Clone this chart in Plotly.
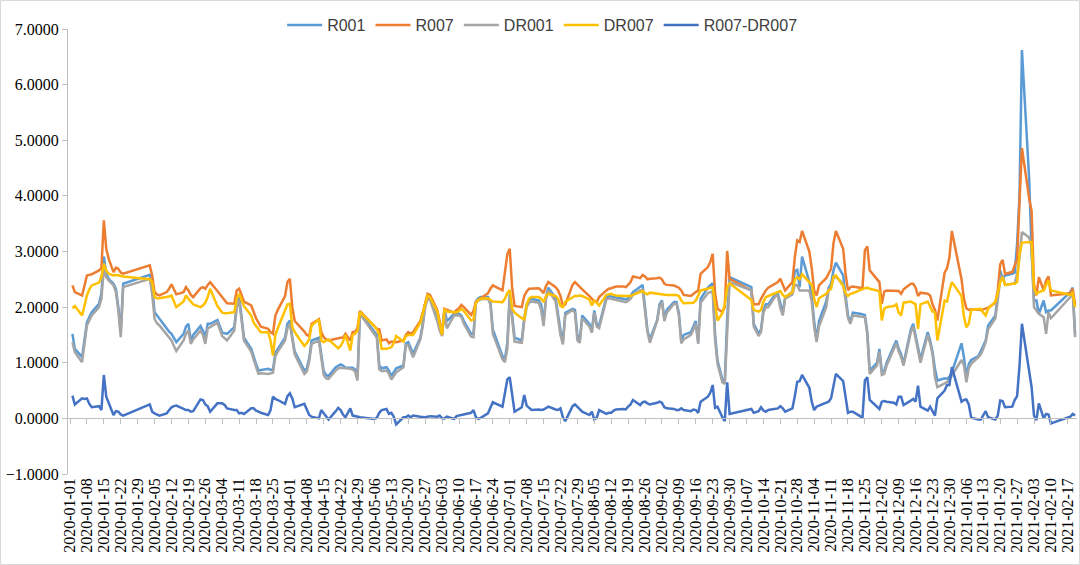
import numpy as np
import plotly.graph_objects as go

dates = [
    "2020-01-02", "2020-01-03", "2020-01-06", "2020-01-07", "2020-01-08", "2020-01-09", "2020-01-10",
    "2020-01-13", "2020-01-14", "2020-01-15", "2020-01-16", "2020-01-17", "2020-01-19", "2020-01-20",
    "2020-01-21", "2020-01-22", "2020-01-23", "2020-02-03", "2020-02-04", "2020-02-05", "2020-02-06",
    "2020-02-07", "2020-02-10", "2020-02-11", "2020-02-12", "2020-02-13", "2020-02-14", "2020-02-17",
    "2020-02-18", "2020-02-19", "2020-02-20", "2020-02-21", "2020-02-24", "2020-02-25", "2020-02-26",
    "2020-02-27", "2020-02-28", "2020-03-02", "2020-03-03", "2020-03-04", "2020-03-05", "2020-03-06",
    "2020-03-09", "2020-03-10", "2020-03-11", "2020-03-12", "2020-03-13", "2020-03-16", "2020-03-17",
    "2020-03-18", "2020-03-19", "2020-03-20", "2020-03-23", "2020-03-24", "2020-03-25", "2020-03-26",
    "2020-03-27", "2020-03-30", "2020-03-31", "2020-04-01", "2020-04-02", "2020-04-03", "2020-04-07",
    "2020-04-08", "2020-04-09", "2020-04-10", "2020-04-13", "2020-04-14", "2020-04-15", "2020-04-16",
    "2020-04-17", "2020-04-20", "2020-04-21", "2020-04-22", "2020-04-23", "2020-04-24", "2020-04-26",
    "2020-04-27", "2020-04-28", "2020-04-29", "2020-04-30", "2020-05-06", "2020-05-07", "2020-05-08",
    "2020-05-09", "2020-05-11", "2020-05-12", "2020-05-13", "2020-05-14", "2020-05-15", "2020-05-18",
    "2020-05-19", "2020-05-20", "2020-05-21", "2020-05-22", "2020-05-25", "2020-05-26", "2020-05-27",
    "2020-05-28", "2020-05-29", "2020-06-01", "2020-06-02", "2020-06-03", "2020-06-04", "2020-06-05",
    "2020-06-08", "2020-06-09", "2020-06-10", "2020-06-11", "2020-06-12", "2020-06-15", "2020-06-16",
    "2020-06-17", "2020-06-18", "2020-06-19", "2020-06-22", "2020-06-23", "2020-06-24", "2020-06-28",
    "2020-06-29", "2020-06-30", "2020-07-01", "2020-07-02", "2020-07-03", "2020-07-06", "2020-07-07",
    "2020-07-08", "2020-07-09", "2020-07-10", "2020-07-13", "2020-07-14", "2020-07-15", "2020-07-16",
    "2020-07-17", "2020-07-20", "2020-07-21", "2020-07-22", "2020-07-23", "2020-07-24", "2020-07-27",
    "2020-07-28", "2020-07-29", "2020-07-30", "2020-07-31", "2020-08-03", "2020-08-04", "2020-08-05",
    "2020-08-06", "2020-08-07", "2020-08-10", "2020-08-11", "2020-08-12", "2020-08-13", "2020-08-14",
    "2020-08-17", "2020-08-18", "2020-08-19", "2020-08-20", "2020-08-21", "2020-08-24", "2020-08-25",
    "2020-08-26", "2020-08-27", "2020-08-28", "2020-08-31", "2020-09-01", "2020-09-02", "2020-09-03",
    "2020-09-04", "2020-09-07", "2020-09-08", "2020-09-09", "2020-09-10", "2020-09-11", "2020-09-14",
    "2020-09-15", "2020-09-16", "2020-09-17", "2020-09-18", "2020-09-21", "2020-09-22", "2020-09-23",
    "2020-09-24", "2020-09-25", "2020-09-27", "2020-09-28", "2020-09-29", "2020-09-30", "2020-10-09",
    "2020-10-10", "2020-10-12", "2020-10-13", "2020-10-14", "2020-10-15", "2020-10-16", "2020-10-19",
    "2020-10-20", "2020-10-21", "2020-10-22", "2020-10-23", "2020-10-26", "2020-10-27", "2020-10-28",
    "2020-10-29", "2020-10-30", "2020-11-02", "2020-11-03", "2020-11-04", "2020-11-05", "2020-11-06",
    "2020-11-09", "2020-11-10", "2020-11-11", "2020-11-12", "2020-11-13", "2020-11-16", "2020-11-17",
    "2020-11-18", "2020-11-19", "2020-11-20", "2020-11-23", "2020-11-24", "2020-11-25", "2020-11-26",
    "2020-11-27", "2020-11-30", "2020-12-01", "2020-12-02", "2020-12-03", "2020-12-04", "2020-12-07",
    "2020-12-08", "2020-12-09", "2020-12-10", "2020-12-11", "2020-12-14", "2020-12-15", "2020-12-16",
    "2020-12-17", "2020-12-18", "2020-12-21", "2020-12-22", "2020-12-23", "2020-12-24", "2020-12-25",
    "2020-12-28", "2020-12-29", "2020-12-30", "2020-12-31", "2021-01-04", "2021-01-05", "2021-01-06",
    "2021-01-07", "2021-01-08", "2021-01-11", "2021-01-12", "2021-01-13", "2021-01-14", "2021-01-15",
    "2021-01-18", "2021-01-19", "2021-01-20", "2021-01-21", "2021-01-22", "2021-01-25", "2021-01-26",
    "2021-01-27", "2021-01-28", "2021-01-29", "2021-02-01", "2021-02-02", "2021-02-03", "2021-02-04",
    "2021-02-05", "2021-02-07", "2021-02-08", "2021-02-09", "2021-02-10", "2021-02-18", "2021-02-19",
    "2021-02-20",
]

r001 = [
    1.52, 1.25, 1.10, 1.40, 1.73, 1.82, 1.91, 2.06, 2.25, 2.91, 2.60, 2.51, 2.42, 2.33, 2.00, 1.55, 2.42,
    2.58, 2.36, 1.91, 1.85, 1.79, 1.61, 1.56, 1.52, 1.45, 1.37, 1.52, 1.65, 1.70, 1.40, 1.50, 1.66, 1.58,
    1.46, 1.70, 1.70, 1.77, 1.65, 1.54, 1.53, 1.52, 1.64, 2.05, 2.20, 1.80, 1.45, 1.25, 1.10, 0.98, 0.86,
    0.87, 0.89, 0.87, 0.88, 1.18, 1.25, 1.45, 1.70, 1.76, 1.46, 1.20, 0.86, 0.90, 1.08, 1.40, 1.45, 1.15,
    0.85, 0.78, 0.76, 0.92, 0.95, 0.97, 0.95, 0.91, 0.91, 0.91, 0.88, 0.76, 1.90, 1.55, 1.50, 0.95, 0.90,
    0.92, 0.86, 0.76, 0.82, 0.90, 0.95, 1.35, 1.37, 1.25, 1.16, 1.45, 1.70, 2.05, 2.20, 2.18, 1.80, 1.62,
    1.52, 1.97, 1.75, 1.88, 1.88, 1.88, 1.85, 1.75, 1.52, 1.52, 2.10, 2.16, 2.18, 2.18, 2.10, 1.60, 1.12,
    1.07, 1.35, 2.24, 1.85, 1.45, 1.40, 1.80, 2.05, 2.12, 2.15, 2.12, 2.05, 1.72, 2.18, 2.35, 2.16, 1.85,
    1.58, 1.38, 1.90, 1.97, 1.95, 1.50, 1.40, 1.85, 1.70, 1.58, 1.94, 1.70, 1.67, 2.18, 2.20, 2.19, 2.18,
    2.17, 2.15, 2.14, 2.16, 2.20, 2.27, 2.38, 2.40, 2.00, 1.58, 1.42, 1.76, 2.05, 2.12, 1.80, 1.95, 2.09,
    2.09, 1.90, 1.40, 1.50, 1.55, 1.65, 1.75, 1.37, 2.15, 2.35, 2.40, 2.43, 1.50, 1.04, 0.70, 0.65, 1.80,
    2.54, 2.36, 1.70, 1.52, 1.60, 1.95, 2.05, 2.05, 2.24, 2.24, 2.05, 1.90, 2.18, 2.27, 2.65, 2.67, 2.36,
    2.91, 2.45, 2.20, 1.75, 1.40, 1.75, 2.10, 2.35, 2.42, 2.66, 2.80, 2.57, 2.20, 1.85, 1.73, 1.90, 1.88,
    1.87, 1.86, 1.55, 0.86, 1.00, 1.25, 0.85, 0.85, 1.00, 1.30, 1.40, 1.25, 1.15, 0.98, 1.60, 1.70, 1.50,
    1.25, 1.06, 1.55, 1.40, 1.20, 0.89, 0.68, 0.72, 0.71, 0.75, 0.83, 1.35, 1.10, 0.74, 0.98, 1.05, 1.12,
    1.22, 1.30, 1.40, 1.67, 1.85, 2.24, 2.66, 2.51, 2.57, 2.60, 2.62, 3.14, 4.00, 6.62, 4.30, 3.00, 2.12,
    2.12, 1.88, 2.12, 1.91, 1.94, 1.94, 2.27, 2.35, 1.52,
]

r007 = [
    2.39, 2.27, 2.21, 2.40, 2.57, 2.58, 2.59, 2.66, 2.70, 3.56, 3.05, 2.87, 2.63, 2.71, 2.69, 2.62, 2.60,
    2.75, 2.57, 2.27, 2.23, 2.21, 2.27, 2.33, 2.41, 2.32, 2.23, 2.27, 2.36, 2.30, 2.22, 2.18, 2.34, 2.36,
    2.33, 2.40, 2.45, 2.29, 2.23, 2.17, 2.13, 2.07, 2.06, 2.30, 2.33, 2.22, 2.10, 2.03, 1.90, 1.80, 1.72,
    1.65, 1.61, 1.55, 1.52, 1.85, 1.95, 2.20, 2.45, 2.51, 2.00, 1.75, 1.56, 1.50, 1.48, 1.70, 1.78, 1.55,
    1.46, 1.42, 1.40, 1.43, 1.45, 1.45, 1.45, 1.52, 1.40, 1.55, 1.56, 1.62, 1.93, 1.65, 1.61, 1.60, 1.40,
    1.42, 1.35, 1.38, 1.38, 1.37, 1.40, 1.50, 1.55, 1.52, 1.55, 1.75, 1.90, 2.10, 2.24, 2.22, 1.95, 1.75,
    1.50, 1.97, 1.95, 1.90, 1.95, 1.98, 2.04, 2.00, 1.86, 1.93, 2.10, 2.12, 2.16, 2.25, 2.33, 2.39, 2.30,
    2.59, 2.95, 3.05, 2.35, 2.02, 2.00, 2.20, 2.28, 2.33, 2.33, 2.34, 2.30, 2.25, 2.38, 2.45, 2.36, 2.30,
    2.20, 2.02, 2.05, 2.40, 2.45, 2.40, 2.36, 2.32, 2.20, 2.15, 2.10, 2.09, 2.18, 2.30, 2.33, 2.34, 2.36,
    2.37, 2.37, 2.36, 2.40, 2.45, 2.55, 2.52, 2.58, 2.55, 2.50, 2.51, 2.52, 2.53, 2.50, 2.42, 2.40, 2.39,
    2.37, 2.35, 2.30, 2.22, 2.20, 2.24, 2.27, 2.30, 2.60, 2.72, 2.81, 2.96, 2.24, 1.97, 1.91, 2.00, 3.01,
    2.51, 2.30, 2.05, 2.05, 2.15, 2.24, 2.30, 2.35, 2.42, 2.45, 2.51, 2.40, 2.30, 2.45, 2.90, 3.20, 3.17,
    3.37, 3.00, 2.70, 2.30, 2.21, 2.39, 2.52, 2.60, 2.69, 3.15, 3.37, 3.05, 2.60, 2.30, 2.36, 2.37, 2.35,
    2.34, 3.02, 3.09, 2.66, 2.50, 2.45, 2.06, 2.28, 2.30, 2.30, 2.30, 2.29, 2.24, 2.32, 2.42, 2.42, 2.35,
    2.20, 2.26, 2.24, 2.21, 2.05, 1.95, 1.76, 2.62, 2.70, 2.90, 3.37, 2.50, 2.15, 1.98, 1.95, 1.96, 1.95,
    1.95, 1.96, 1.98, 1.99, 2.08, 2.30, 2.77, 2.85, 2.60, 2.63, 2.75, 2.85, 3.90, 4.86, 3.95, 3.73, 2.40,
    2.21, 2.54, 2.30, 2.48, 2.55, 2.21, 2.25, 2.33, 2.05,
]

dr001 = [
    1.37, 1.19, 1.01, 1.30, 1.67, 1.76, 1.85, 2.00, 2.15, 2.69, 2.54, 2.48, 2.39, 2.27, 1.94, 1.46, 2.36,
    2.51, 2.24, 1.79, 1.71, 1.67, 1.52, 1.46, 1.40, 1.30, 1.21, 1.40, 1.52, 1.58, 1.34, 1.42, 1.58, 1.50,
    1.34, 1.62, 1.64, 1.72, 1.60, 1.48, 1.44, 1.40, 1.58, 1.98, 2.13, 1.72, 1.40, 1.20, 1.04, 0.92, 0.80,
    0.81, 0.80, 0.81, 0.82, 1.12, 1.20, 1.40, 1.62, 1.70, 1.40, 1.15, 0.80, 0.84, 1.02, 1.34, 1.40, 1.10,
    0.78, 0.72, 0.71, 0.86, 0.90, 0.91, 0.91, 0.90, 0.89, 0.88, 0.84, 0.68, 1.88, 1.52, 1.45, 0.88, 0.85,
    0.86, 0.80, 0.70, 0.77, 0.83, 0.92, 1.32, 1.32, 1.20, 1.10, 1.42, 1.66, 2.00, 2.15, 2.13, 1.75, 1.58,
    1.48, 1.93, 1.62, 1.85, 1.85, 1.85, 1.82, 1.70, 1.47, 1.46, 2.07, 2.12, 2.14, 2.15, 2.05, 1.52, 1.06,
    1.01, 1.25, 2.18, 1.78, 1.38, 1.36, 1.75, 2.00, 2.08, 2.10, 2.08, 1.95, 1.66, 2.15, 2.30, 2.10, 1.78,
    1.50, 1.33, 1.86, 1.95, 1.90, 1.40, 1.36, 1.80, 1.65, 1.54, 1.90, 1.65, 1.62, 2.14, 2.16, 2.15, 2.14,
    2.13, 2.10, 2.09, 2.11, 2.15, 2.22, 2.30, 2.31, 1.95, 1.55, 1.36, 1.75, 2.00, 2.10, 1.75, 1.90, 2.06,
    2.06, 1.85, 1.35, 1.42, 1.50, 1.60, 1.70, 1.34, 2.08, 2.25, 2.27, 2.27, 1.40, 0.98, 0.65, 0.62, 1.70,
    2.45, 2.30, 1.65, 1.48, 1.55, 1.90, 2.00, 2.00, 2.20, 2.20, 1.98, 1.85, 2.15, 2.23, 2.40, 2.40, 2.30,
    2.30, 2.30, 2.10, 1.65, 1.37, 1.65, 2.00, 2.30, 2.38, 2.52, 2.55, 2.42, 2.12, 1.80, 1.70, 1.85, 1.83,
    1.83, 1.82, 1.50, 0.80, 0.95, 1.20, 0.78, 0.80, 0.95, 1.25, 1.35, 1.20, 1.10, 0.95, 1.55, 1.65, 1.45,
    1.20, 1.00, 1.50, 1.35, 1.15, 0.74, 0.56, 0.62, 0.65, 0.70, 0.77, 1.05, 0.95, 0.65, 0.90, 0.98, 1.10,
    1.15, 1.25, 1.37, 1.60, 1.80, 2.12, 2.50, 2.57, 2.40, 2.42, 2.42, 2.60, 2.90, 3.35, 3.25, 3.08, 2.00,
    1.94, 1.88, 1.82, 1.52, 1.91, 1.80, 2.18, 2.27, 1.46,
]

dr007 = [
    1.98, 2.02, 1.85, 2.05, 2.21, 2.32, 2.39, 2.44, 2.55, 2.78, 2.66, 2.60, 2.57, 2.58, 2.57, 2.55, 2.55,
    2.50, 2.45, 2.18, 2.16, 2.16, 2.18, 2.19, 2.21, 2.10, 2.00, 2.10, 2.21, 2.15, 2.10, 2.05, 2.00, 2.03,
    2.08, 2.18, 2.33, 2.02, 1.96, 1.90, 1.89, 1.89, 1.91, 2.15, 2.24, 2.12, 2.02, 1.85, 1.72, 1.66, 1.60,
    1.55, 1.55, 1.40, 1.13, 1.50, 1.62, 1.94, 2.05, 2.06, 1.64, 1.55, 1.30, 1.35, 1.42, 1.67, 1.78, 1.40,
    1.37, 1.40, 1.42, 1.30, 1.26, 1.30, 1.38, 1.50, 1.22, 1.50, 1.52, 1.58, 1.91, 1.66, 1.60, 1.50, 1.25,
    1.25, 1.27, 1.28, 1.35, 1.48, 1.38, 1.48, 1.50, 1.50, 1.50, 1.72, 1.88, 2.08, 2.21, 2.18, 1.92, 1.70,
    1.50, 1.97, 1.92, 1.91, 1.91, 1.93, 1.97, 1.93, 1.76, 1.78, 2.08, 2.13, 2.15, 2.16, 2.13, 2.10, 2.09,
    2.15, 2.25, 2.31, 1.97, 1.90, 1.80, 1.78, 2.05, 2.15, 2.18, 2.18, 2.15, 2.09, 2.20, 2.24, 2.20, 2.15,
    2.02, 2.00, 2.10, 2.18, 2.20, 2.20, 2.21, 2.20, 2.14, 2.03, 2.12, 2.08, 2.03, 2.22, 2.23, 2.24, 2.22,
    2.21, 2.20, 2.20, 2.19, 2.20, 2.22, 2.28, 2.29, 2.25, 2.23, 2.26, 2.24, 2.23, 2.22, 2.22, 2.22, 2.22,
    2.22, 2.20, 2.12, 2.07, 2.07, 2.08, 2.12, 2.20, 2.30, 2.33, 2.35, 2.36, 2.05, 1.76, 1.89, 2.05, 2.36,
    2.43, 2.13, 1.95, 1.92, 1.95, 2.10, 2.18, 2.20, 2.25, 2.27, 2.29, 2.22, 2.18, 2.27, 2.50, 2.54, 2.50,
    2.59, 2.45, 2.40, 2.15, 2.00, 2.16, 2.24, 2.30, 2.33, 2.55, 2.57, 2.38, 2.25, 2.20, 2.24, 2.25, 2.31,
    2.33, 2.34, 2.35, 2.33, 2.30, 2.28, 1.76, 1.97, 2.00, 2.02, 2.05, 1.90, 1.85, 2.08, 2.10, 2.07, 2.05,
    1.61, 2.05, 2.10, 2.00, 1.92, 1.90, 1.40, 2.12, 2.10, 2.30, 2.45, 2.20, 1.82, 1.64, 1.70, 1.95, 1.97,
    1.97, 1.90, 1.85, 1.97, 2.10, 2.25, 2.45, 2.54, 2.40, 2.42, 2.42, 2.45, 2.95, 3.16, 3.17, 3.17, 2.35,
    2.24, 2.27, 2.30, 2.40, 2.48, 2.30, 2.22, 2.25, 2.00,
]

# spread series is R007 minus DR007
spread = np.round(np.array(r007) - np.array(dr007), 4)

series = [
    ("R001", r001, "#5B9BD5", "x"),
    ("R007", r007, "#ED7D31", "x"),
    ("DR001", dr001, "#A5A5A5", "x"),
    ("DR007", dr007, "#FFC000", "x"),
    # drawn on the overlaid axis that sits on the zero line
    ("R007-DR007", spread, "#4472C4", "x2"),
]

fig = go.Figure()
for name, vals, clr, xax in series:
    fig.add_trace(go.Scatter(
        x=dates, y=vals, name=name, mode="lines", xaxis=xax, yaxis="y",
        line=dict(color=clr, width=2.5),
    ))

x_range = ["2019-12-31 04:00", "2021-02-20 19:00"]
week = 7 * 24 * 3600 * 1000
axis_grey = "#BFBFBF"
serif = "Liberation Serif, Times New Roman, DejaVu Serif, serif"

fig.update_layout(
    width=1080, height=565,
    margin=dict(l=68, r=3, t=29, b=91, autoexpand=False),
    paper_bgcolor="white", plot_bgcolor="white",
    showlegend=True,
    legend=dict(
        orientation="h", xref="container", yref="container",
        x=0.502, xanchor="center", y=1 - 25 / 565, yanchor="middle",
        font=dict(family="Liberation Sans, Arial, sans-serif", size=16, color="#404040"),
        itemwidth=35, bgcolor="rgba(0,0,0,0)",
    ),
    xaxis=dict(
        type="date", range=x_range, tick0="2020-01-01", dtick=week,
        tickformat="%Y-%m-%d", tickangle=-90, showgrid=False, zeroline=False,
        showline=False, ticks="", automargin=False,
        tickfont=dict(family=serif, size=16, color="#000000"),
    ),
    xaxis2=dict(
        type="date", range=x_range, tick0="2020-01-01", dtick=week,
        overlaying="x", anchor="free", position=0.125,
        showticklabels=False, ticks="outside", ticklen=5, tickcolor=axis_grey,
        showline=True, linecolor=axis_grey, linewidth=1, showgrid=False, zeroline=False,
        automargin=False,
    ),
    yaxis=dict(
        range=[-1, 7], dtick=1, tickformat=".4f", showgrid=False, zeroline=False,
        showline=True, linecolor=axis_grey, linewidth=1,
        ticks="outside", ticklen=5, tickcolor=axis_grey, automargin=False,
        tickfont=dict(family=serif, size=16, color="#000000"),
    ),
    shapes=[dict(
        type="rect", xref="paper", yref="paper",
        x0=-67.5 / 1009, x1=1 + 2.5 / 1009, y0=-90.5 / 445, y1=1 + 28.5 / 445,
        line=dict(color="#D9D9D9", width=1),
    )],
)

# the page body has a default 8px margin; remove it so the chart fills the window
fig.write_html(
    "out.html",
    config={"displayModeBar": False},
    post_script="document.body.style.margin = '0';",
)
